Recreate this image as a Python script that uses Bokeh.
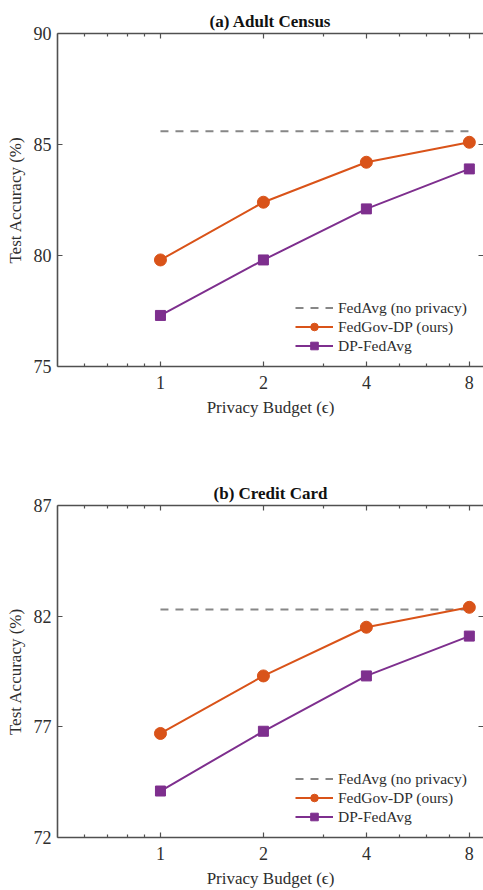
from bokeh.plotting import figure
from bokeh.models import (FixedTicker, LogAxis, LinearAxis, Range1d, Legend,
                          LegendItem, CustomJSTickFormatter)
from bokeh.layouts import column
from bokeh.embed import file_html
from bokeh.resources import INLINE

# Privacy budgets (x axis, log scale)
eps = [1, 2, 4, 8]
x_major = [1, 2, 4, 8]
x_minor = [0.6, 0.7, 0.8, 0.9, 3, 5, 6, 7]

# (a) Adult Census
adult_fedgov = [79.8, 82.4, 84.2, 85.1]
adult_dpfedavg = [77.3, 79.8, 82.1, 83.9]
adult_fedavg = 85.6
adult_yticks = [75, 80, 85, 90]

# (b) Credit Card
credit_fedgov = [76.7, 79.3, 81.5, 82.4]
credit_dpfedavg = [74.1, 76.8, 79.3, 81.1]
credit_fedavg = 82.3
credit_yticks = [72, 77, 82, 87]

SERIF = "Liberation Serif"
AX = "#505050"
TXT = "#2e2e2e"
ORANGE = "#D95319"
PURPLE = "#7E2F8E"
GRAY = "#878787"


def style_axis(ax):
    ax.axis_line_color = AX
    ax.axis_line_width = 1.6
    ax.major_tick_line_color = AX
    ax.minor_tick_line_color = AX
    ax.major_tick_line_width = 1.2
    ax.minor_tick_line_width = 1.2
    ax.major_tick_in = 5
    ax.major_tick_out = 0
    ax.minor_tick_in = 3
    ax.minor_tick_out = 0
    ax.major_label_text_font = SERIF
    ax.major_label_text_color = TXT
    ax.major_label_text_font_size = "18px"
    ax.axis_label_text_font = SERIF
    ax.axis_label_text_color = TXT
    ax.axis_label_text_font_size = "17px"
    ax.axis_label_text_font_style = "normal"


def tick_only(ax):
    # border axis: inward ticks, no numbers
    style_axis(ax)
    ax.formatter = CustomJSTickFormatter(code="return ''")
    ax.major_label_standoff = 0


def panel(title, yticks, fedgov, dpfedavg, fedavg, top, bottom):
    p = figure(width=483, height=445, x_axis_type="log",
               x_range=Range1d(0.5, 8.8),
               y_range=Range1d(yticks[0], yticks[-1]),
               output_backend="svg", toolbar_location=None,
               min_border_left=57, min_border_right=0,
               min_border_top=top, min_border_bottom=bottom)
    p.outline_line_color = None
    p.xgrid.visible = False
    p.ygrid.visible = False
    p.background_fill_color = "white"
    p.border_fill_color = "white"

    p.title.text = title
    p.title.align = "center"
    p.title.text_font = SERIF
    p.title.text_font_style = "bold"
    p.title.text_font_size = "17px"
    p.title.text_color = "#111111"
    p.title.standoff = 6

    xt = FixedTicker(ticks=x_major, minor_ticks=x_minor)
    yt = FixedTicker(ticks=yticks, minor_ticks=[])

    xa = p.xaxis[0]
    xa.ticker = xt
    xa.axis_label = "Privacy Budget (ϵ)"
    style_axis(xa)
    xa.major_label_standoff = 9
    xa.axis_label_standoff = 6

    ya = p.yaxis[0]
    ya.ticker = yt
    ya.axis_label = "Test Accuracy (%)"
    style_axis(ya)
    ya.major_label_standoff = 6
    ya.axis_label_standoff = 6

    top_ax = LogAxis(ticker=xt)
    tick_only(top_ax)
    p.add_layout(top_ax, "above")

    right_ax = LinearAxis(ticker=yt)
    tick_only(right_ax)
    right_ax.axis_line_color = None
    p.add_layout(right_ax, "right")

    r_base = p.line([eps[0], eps[-1]], [fedavg, fedavg], line_color=GRAY,
                    line_width=2, line_dash="8 7")
    l_gov = p.line(eps, fedgov, line_color=ORANGE, line_width=2)
    m_gov = p.scatter(eps, fedgov, marker="circle", size=12,
                      fill_color=ORANGE, line_color=ORANGE)
    l_dp = p.line(eps, dpfedavg, line_color=PURPLE, line_width=2)
    m_dp = p.scatter(eps, dpfedavg, marker="square", size=10,
                     fill_color=PURPLE, line_color=PURPLE)

    legend = Legend(items=[
        LegendItem(label="FedAvg (no privacy)", renderers=[r_base]),
        LegendItem(label="FedGov-DP (ours)", renderers=[l_gov, m_gov]),
        LegendItem(label="DP-FedAvg", renderers=[l_dp, m_dp]),
    ], location=(238, 11))
    legend.background_fill_alpha = 0
    legend.border_line_color = None
    legend.padding = 0
    legend.margin = 0
    legend.spacing = 0
    legend.label_height = 19
    legend.glyph_height = 19
    legend.glyph_width = 38
    legend.label_standoff = 5
    legend.label_text_font = SERIF
    legend.label_text_font_size = "15.5px"
    legend.label_text_color = TXT
    p.add_layout(legend)
    return p


p1 = panel("(a) Adult Census", adult_yticks, adult_fedgov, adult_dpfedavg,
           adult_fedavg, 33, 79)
p2 = panel("(b) Credit Card", credit_yticks, credit_fedgov, credit_dpfedavg,
           credit_fedavg, 60, 52)

layout = column(p1, p2, spacing=0)
open("out.html", "w").write(file_html(layout, INLINE))
